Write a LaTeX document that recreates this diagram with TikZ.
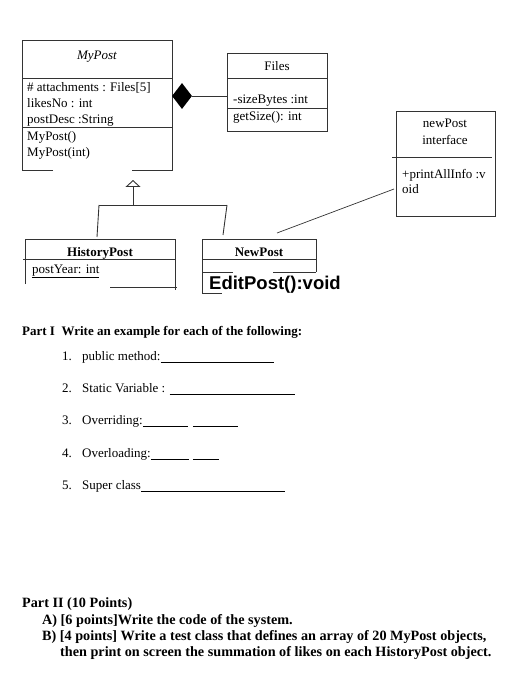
\documentclass[tikz,border=0pt]{standalone}
\usepackage{fontspec}
\setmainfont{Liberation Serif}
\newfontfamily\sansbold{Liberation Sans}[BoldFont={Liberation Sans Bold}]
\usetikzlibrary{shapes.geometric,arrows.meta}
\newcommand{\answerline}[1]{\rule[-2.5pt]{#1pt}{0.6pt}}
\begin{document}
\begin{tikzpicture}[x=1pt,y=-1pt,
				every node/.style={inner sep=0pt,font=\fontsize{13}{16}\selectfont},
				umlline/.style={draw=black!80,line width=0.9pt},
				umlbox/.style={umlline,rectangle},
				txt/.style={anchor=base west},
				ttl/.style={anchor=base},
				bold/.style={anchor=base west,font=\fontsize{13}{16}\selectfont\bfseries},
				bigbold/.style={anchor=base west,font=\fontsize{14.2}{17}\selectfont\bfseries}]
\useasboundingbox (0,0) rectangle (522,700);
% MyPost class
\draw[umlline] (53,170) -- (22,170) -- (22,40) -- (172,40) -- (172,170) -- (132,170);
\draw[umlline] (22,78) -- (172,78) (22,127) -- (172,127);
\node[ttl,font=\fontsize{13}{16}\selectfont\itshape] (mypost) at (97,60) {MyPost};
\node[txt] (attach) at (27,92) {\# attachments : Files[5]};
\node[txt] (likes) at (27,108) {likesNo : int};
\node[txt] (desc) at (27,124) {postDesc :String};
\node[txt] (ctor) at (27,141) {MyPost()};
\node[txt] (ctorint) at (27,157) {MyPost(int)};
% Files class
\node[umlbox,minimum width=100pt,minimum height=78pt] (files) at (277,92) {};
\draw[umlline] (227,78) -- (327,78) (227,108) -- (327,108);
\node[ttl] (filesname) at (277,71) {Files};
\node[txt] (size) at (233,104) {-sizeBytes :int};
\node[txt] (getsize) at (233,121) {getSize(): int};
% composition
\node[diamond,fill=black,minimum width=20pt,minimum height=26pt] (comp) at (182,96) {};
\draw[umlline] (comp.east) -- (comp.east -| files.west);
% newPost interface
\node[umlbox,minimum width=99pt,minimum height=105pt] (iface) at (445.5,163.5) {};
\draw[umlline] (392,157) -- (492,157);
\node[ttl] (ifacename) at (445,128) {newPost};
\node[ttl] (ifacekind) at (445,145) {interface};
\node[txt] (printinfo) at (402,179) {+printAllInfo :v};
\node[txt] (printinfo2) at (402,194) {oid};
% inheritance
\coordinate (fork) at (133,205);
\coordinate (tip) at (133,180);
\coordinate (forkL) at (99,205);
\coordinate (forkR) at (227,205);
\coordinate (hpTop) at (97,237);
\coordinate (npTop) at (223,235);
\draw[umlline,-{Triangle[open,width=15pt,length=7pt]}] (fork) -- (tip);
\draw[umlline] (forkL) -- (forkR);
\draw[umlline] (forkL) -- (hpTop);
\draw[umlline] (forkR) -- (npTop);
% HistoryPost class
\draw[umlline] (25,284) -- (25,239) -- (175,239) -- (175,290);
\draw[umlline] (23,259) -- (175,259) (110,287) -- (177,287);
\node[ttl,font=\fontsize{13}{15}\selectfont\bfseries] (history) at (100,256) {HistoryPost};
\node[txt] (year) at (32,273) {\underline{postYear: int}};
% NewPost class
\draw[umlline] (202,293) -- (202,239) -- (316,239) -- (316,272);
\draw[umlline] (202,259) -- (316,259) (202,272) -- (233,272) (273,272) -- (316,272) (202,293) -- (222,293);
\node[ttl,font=\fontsize{13}{15}\selectfont\bfseries] (newpost) at (259,256) {NewPost};
\node[anchor=base west,font=\sansbold\bfseries\fontsize{18.5}{20}\selectfont] (editpost) at (209,289) {EditPost():void};
% association
\coordinate (ifaceend) at (394,189);
\coordinate (newpostend) at (277,233);
\draw[umlline,line width=0.7pt] (ifaceend) -- (newpostend);
% Part I
\node[bold] (part1) at (22,335) {Part I\ \ Write an example for each of the following:};
\node[txt] (n1) at (62,360) {1.};
\node[txt] (q1) at (82,360) {public method:\answerline{113}};
\node[txt] (n2) at (62,392) {2.};
\node[txt] (q2) at (82,392) {Static Variable : \answerline{125}};
\node[txt] (n3) at (62,424) {3.};
\node[txt] (q3) at (82,424) {Overriding:\answerline{45}\hspace{5pt}\answerline{45}};
\node[txt] (n4) at (62,457) {4.};
\node[txt] (q4) at (82,457) {Overloading:\answerline{38}\hspace{4pt}\answerline{26}};
\node[txt] (n5) at (62,489) {5.};
\node[txt] (q5) at (82,489) {Super class\answerline{144}};
% Part II
\node[bigbold] (part2) at (22,607) {Part II (10 Points)};
\node[bigbold] (partA) at (42,624) {A) [6 points]Write the code of the system.};
\node[bigbold] (partB) at (42,640) {B) [4 points] Write a test class that defines an array of 20 MyPost objects,};
\node[bigbold] (partB2) at (60,656) {then print on screen the summation of likes on each HistoryPost object.};
\end{tikzpicture}
\end{document}
